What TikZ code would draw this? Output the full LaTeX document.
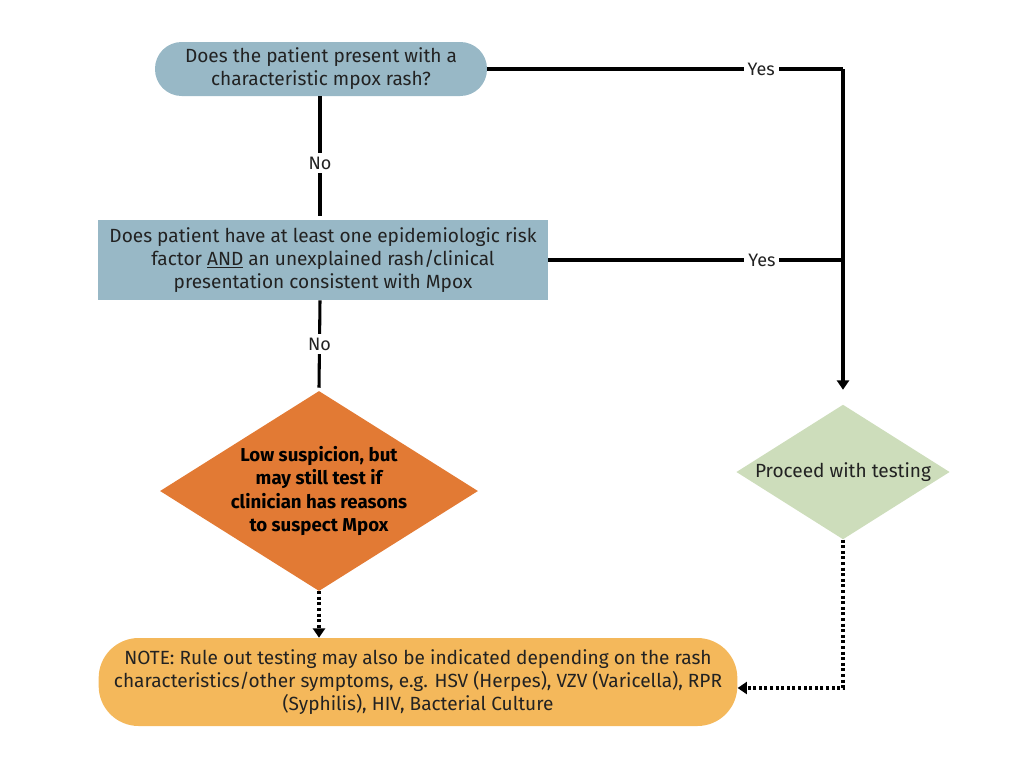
\documentclass[tikz,border=0pt]{standalone}
\usepackage{fontspec}
\setmainfont{Fira Sans}
\usepackage{xcolor}
\usetikzlibrary{arrows.meta,shapes.geometric,calc}
\definecolor{qblue}{HTML}{98B8C6}
\definecolor{lowsusp}{HTML}{E27A34}
\definecolor{proceed}{HTML}{CDDDBB}
\definecolor{notebox}{HTML}{F4B85B}
\definecolor{txtgray}{HTML}{222222}

\tikzset{
  question/.style={draw=none, fill=qblue, align=center, text=txtgray,
    font=\fontsize{14.3}{17.3}\selectfont, inner sep=0pt},
  decision/.style={shape=diamond, draw=none, align=center, inner sep=0pt,
    font=\fontsize{14.3}{17.3}\selectfont},
  flowline/.style={line width=2.3pt, black},
  dotline/.style={line width=2.3pt, black, dash pattern=on 2.2pt off 2pt},
  answer/.style={fill=white, inner sep=3pt, text=txtgray,
    font=\fontsize{13.5}{15}\selectfont},
  tip/.style={-{Triangle[width=9pt,length=7pt]}}
}

\begin{document}
\begin{tikzpicture}[x=0.75pt,y=-0.75pt]
  \useasboundingbox (0,0) rectangle (1024,768);
  % ── Questions ──
  \node[question, rounded corners=20pt, minimum width=249pt, minimum height=40.5pt]
    (rash) at (321,69) {Does the patient present with a\\characteristic mpox rash?};
  \node[question, minimum width=337.5pt, minimum height=60pt]
    (risk) at (323,260) {Does patient have at least one epidemiologic risk\\
      factor \underline{AND} an unexplained rash/clinical\\
      presentation consistent with Mpox};
  % ── Outcomes ──
  \node[decision, fill=lowsusp, minimum width=238.5pt, minimum height=150pt, aspect=1.59,
    font=\fontsize{14}{17.3}\selectfont\bfseries, text=black]
    (low) at (319,491) {Low suspicion, but\\may still test if\\clinician has reasons\\to suspect Mpox};
  \node[decision, fill=proceed, minimum width=160pt, minimum height=101pt, aspect=1.58,
    text=txtgray]
    (test) at (843,472) {Proceed with testing};
  \node[question, fill=notebox, rounded corners=30pt, minimum width=479pt, minimum height=66pt]
    (note) at (418,682) {NOTE: Rule out testing may also be indicated depending on the rash\\
      characteristics/other symptoms, e.g. HSV (Herpes), VZV (Varicella), RPR\\
      (Syphilis), HIV, Bacterial Culture};
  % ── Connectors ──
  \coordinate (yesjoin) at (843,69);
  \coordinate (riskjoin) at (843,260);
  \coordinate (testcorner) at (843,688);
  \draw[flowline] (rash.east) -- node[answer, pos=0.77] {Yes} (yesjoin);
  \draw[flowline, tip, shorten >=11pt] (yesjoin) -- (test.north);
  \draw[flowline] (risk.east |- riskjoin) -- node[answer, pos=0.725] {Yes} (riskjoin);
  \draw[flowline] (rash.south -| 320,0) -- node[answer, pos=0.56] {No} ($(risk.north -| 320,0)+(0,-4)$);
  \draw[flowline] (risk.south -| 320,0) -- node[answer] {No} ($(low.north)+(0,-3)$);
  \draw[dotline, tip] (low.south) -- (note.north -| low.south);
  \draw[dotline, tip] (test.south) -- (testcorner) -- (note.east |- testcorner);
\end{tikzpicture}
\end{document}
